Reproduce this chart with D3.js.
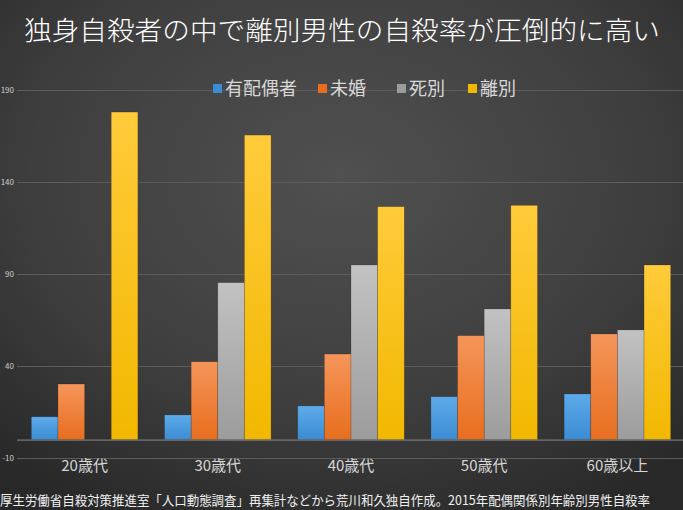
<!DOCTYPE html>
<html>
<head>
<meta charset="utf-8">
<script src="https://cdn.jsdelivr.net/npm/d3@7"></script>
<style>
  html, body { margin: 0; padding: 0; background: #333; }
  svg { display: block; }
</style>
</head>
<body>
<div id="bodyVis"></div>
<script>
// data (male suicide rate by marital status, 2015)
var categories = ["20歳代", "30歳代", "40歳代", "50歳代", "60歳以上"];
var seriesNames = ["有配偶者", "未婚", "死別", "離別"];
var married   = [12.4, 13.4, 18.3, 23.3, 24.8];
var single    = [30.2, 42.3, 46.5, 56.5, 57.4];
var widowed   = [0, 85.3, 94.9, 71, 59.6];
var divorced  = [178, 165.5, 126.6, 127.3, 94.9];
var yTicks = [-10, 40, 90, 140, 190];

var title = "独身自殺者の中で離別男性の自殺率が圧倒的に高い";
var caption = "厚生労働省自殺対策推進室「人口動態調査」再集計などから荒川和久独自作成。2015年配偶関係別年齢別男性自殺率";

var colors = [
  ["#5eaaea", "#3b8cd4"],
  ["#f5955a", "#e86e1e"],
  ["#c2c2c2", "#9c9c9c"],
  ["#ffcb3a", "#f2b800"]
];

var W = 683, H = 510;
var font = "'Noto Sans CJK JP', 'Noto Sans', sans-serif";

var svg = d3.select("#bodyVis").append("svg")
  .attr("width", W)
  .attr("height", H);

var defs = svg.append("defs");
var bg = defs.append("radialGradient")
  .attr("id", "bg")
  .attr("cx", "50%").attr("cy", "35%").attr("r", "75%");
bg.append("stop").attr("offset", "0%").attr("stop-color", "#505050");
bg.append("stop").attr("offset", "60%").attr("stop-color", "#3e3e3e");
bg.append("stop").attr("offset", "100%").attr("stop-color", "#282828");

colors.forEach(function(c, i) {
  var g = defs.append("linearGradient")
    .attr("id", "bar" + i)
    .attr("x1", 0).attr("y1", 0).attr("x2", 0).attr("y2", 1);
  g.append("stop").attr("offset", "0%").attr("stop-color", c[0]);
  g.append("stop").attr("offset", "100%").attr("stop-color", c[1]);
});

svg.append("rect")
  .attr("width", W)
  .attr("height", H)
  .attr("fill", "url(#bg)");

var x0 = d3.scaleBand()
  .domain(categories)
  .range([18, 684])
  .paddingInner(0.2)
  .paddingOuter(0.1);

var x1 = d3.scaleBand()
  .domain(d3.range(seriesNames.length))
  .range([0, x0.bandwidth()]);

var y = d3.scaleLinear()
  .domain([-10, 190])
  .range([458, 90]);

// gridlines
svg.append("g").selectAll("line")
  .data(yTicks)
  .enter()
  .append("line")
  .attr("x1", 17)
  .attr("x2", W)
  .attr("y1", function(d) { return y(d) + 0.5; })
  .attr("y2", function(d) { return y(d) + 0.5; })
  .attr("stroke", "#5c5c5c")
  .attr("stroke-width", 1);

// y tick labels
svg.append("g").selectAll("text")
  .data(yTicks)
  .enter()
  .append("text")
  .attr("x", 14)
  .attr("y", function(d) { return y(d) + 3; })
  .attr("text-anchor", "end")
  .attr("font-family", font)
  .attr("font-size", 8)
  .attr("fill", "#cfcfcf")
  .text(function(d) { return d; });

// bars
var rows = categories.map(function(c, i) {
  return { cat: c, vals: [married[i], single[i], widowed[i], divorced[i]] };
});

var groups = svg.append("g").selectAll("g")
  .data(rows)
  .enter()
  .append("g")
  .attr("transform", function(d) { return "translate(" + x0(d.cat) + ",0)"; });

groups.selectAll("rect")
  .data(function(d) { return d.vals; })
  .enter()
  .append("rect")
  .attr("x", function(d, i) { return x1(i); })
  .attr("y", function(d) { return y(d); })
  .attr("width", x1.bandwidth())
  .attr("height", function(d) { return y(0) - y(d); })
  .attr("fill", function(d, i) { return "url(#bar" + i + ")"; })
  .attr("stroke", "rgba(0,0,0,0.25)")
  .attr("stroke-width", 0.6);

// zero line
svg.append("line")
  .attr("x1", 17)
  .attr("x2", W)
  .attr("y1", y(0) + 0.5)
  .attr("y2", y(0) + 0.5)
  .attr("stroke", "#8a8a8a")
  .attr("stroke-width", 1);

// category labels
svg.append("g").selectAll("text")
  .data(categories)
  .enter()
  .append("text")
  .attr("x", function(d) { return x0(d) + x0.bandwidth() / 2; })
  .attr("y", 471)
  .attr("text-anchor", "middle")
  .attr("font-family", font)
  .attr("font-size", 15)
  .attr("fill", "#d6d6d6")
  .text(function(d) { return d; });

// legend
var legendX = [213, 318, 397, 468];
var legend = svg.append("g").selectAll("g")
  .data(seriesNames)
  .enter()
  .append("g")
  .attr("transform", function(d, i) { return "translate(" + legendX[i] + ",84)"; });

legend.append("rect")
  .attr("width", 9)
  .attr("height", 9)
  .attr("fill", function(d, i) { return colors[i][1]; });

legend.append("text")
  .attr("x", 12)
  .attr("y", 11)
  .attr("font-family", font)
  .attr("font-size", 18)
  .attr("fill", "#d8d8d8")
  .text(function(d) { return d; });

// title
svg.append("text")
  .attr("x", 342)
  .attr("y", 40)
  .attr("text-anchor", "middle")
  .attr("font-family", font)
  .attr("font-size", 26)
  .attr("font-weight", 300)
  .attr("fill", "#ffffff")
  .attr("textLength", 636)
  .attr("lengthAdjust", "spacingAndGlyphs")
  .text(title);

// source caption
svg.append("text")
  .attr("x", 0)
  .attr("y", 505)
  .attr("font-family", font)
  .attr("font-size", 13)
  .attr("fill", "#f0f0f0")
  .attr("textLength", 650)
  .attr("lengthAdjust", "spacingAndGlyphs")
  .text(caption);
</script>
</body>
</html>
